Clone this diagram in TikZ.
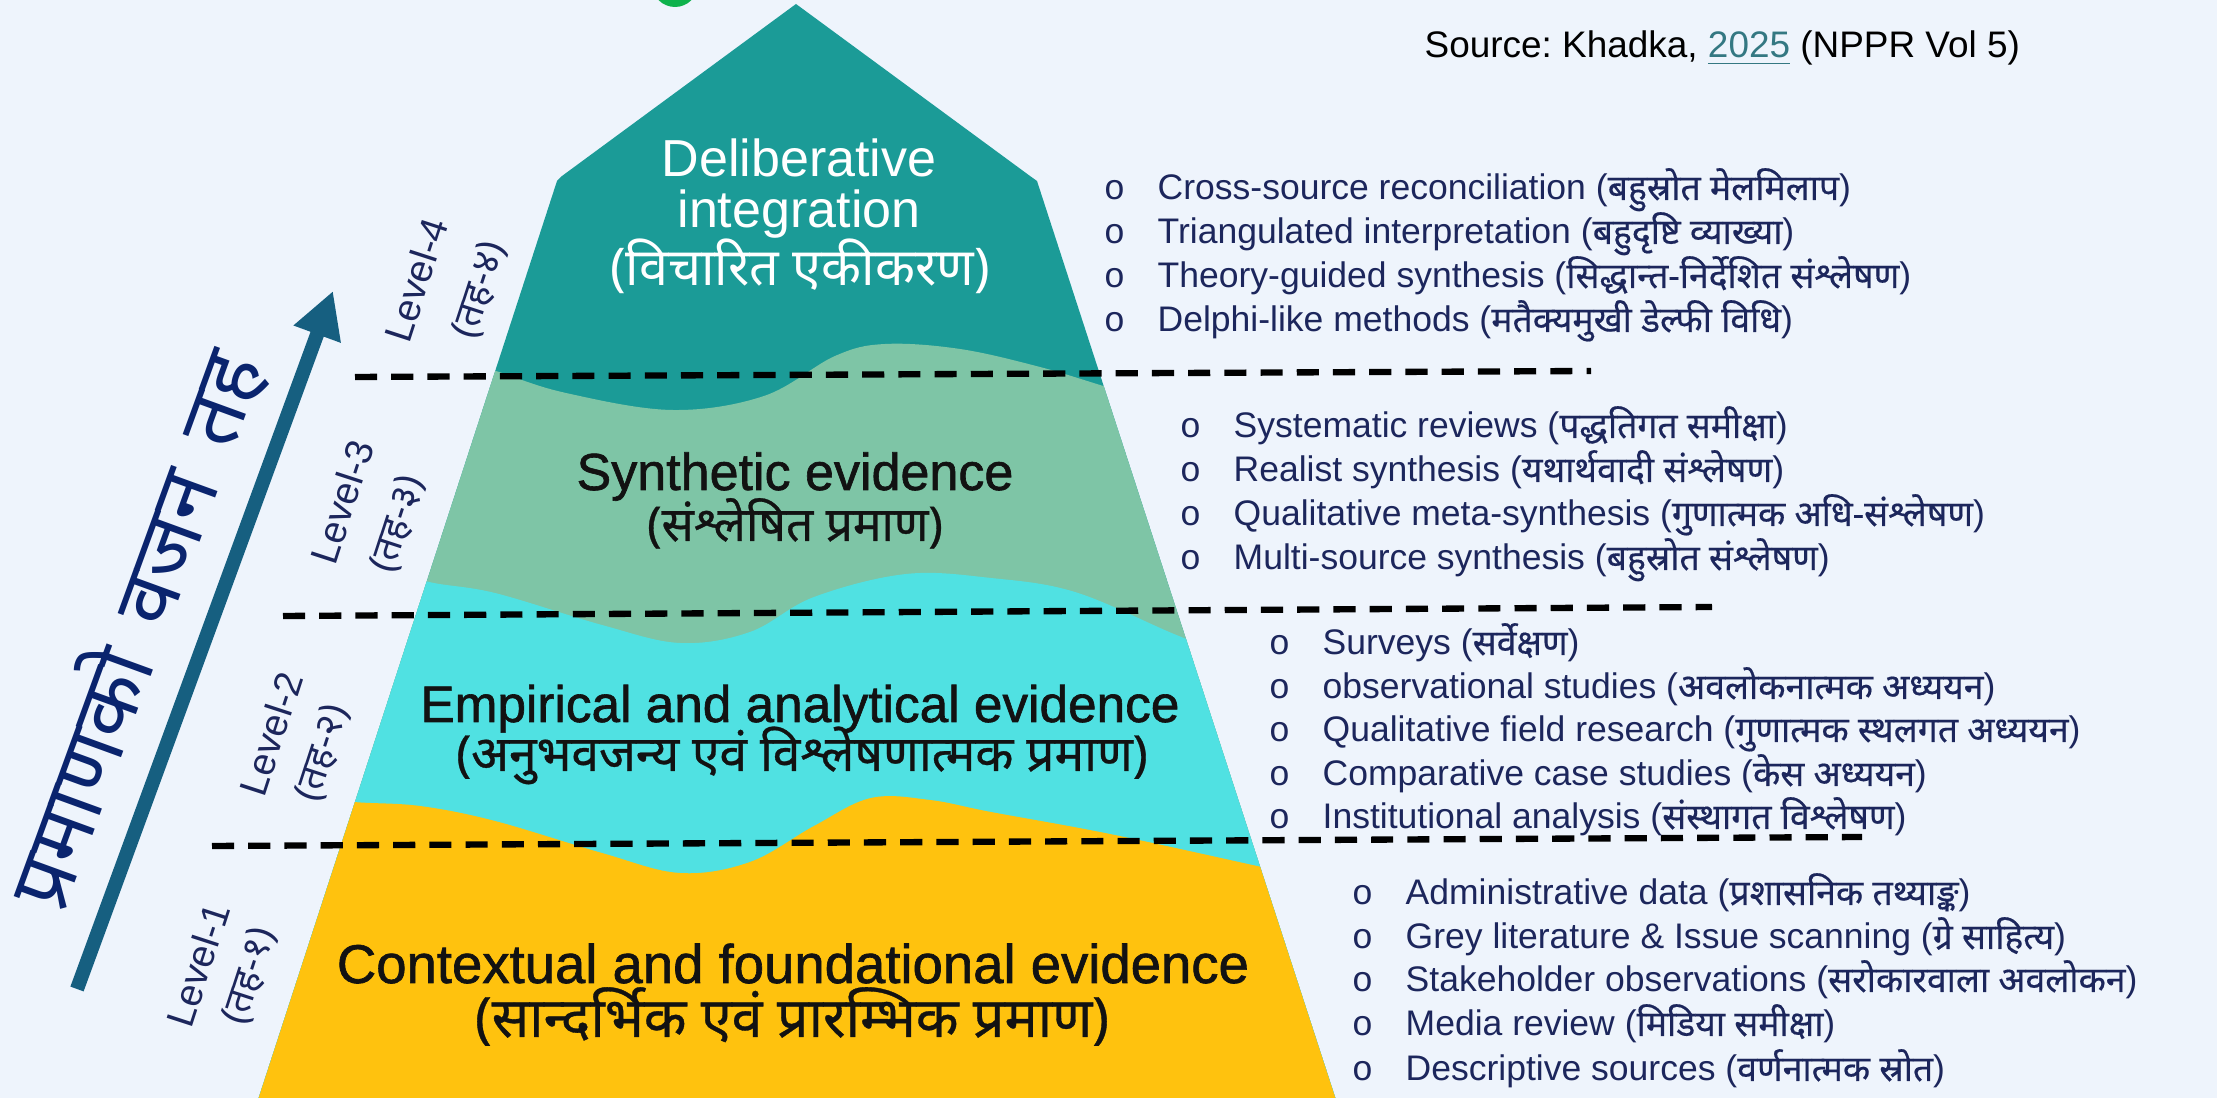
\documentclass[tikz,border=0pt]{standalone}
\usepackage{fontspec}
\setmainfont{Liberation Sans}
\newfontfamily\dev[Script=Devanagari,FakeBold=0.4]{Noto Sans}
\newfontfamily\labfont[FakeBold=1.2]{Liberation Sans}
\newfontfamily\labdev[Script=Devanagari,FakeBold=0.6]{Noto Sans}
\newfontfamily\lvldev[Script=Devanagari]{Noto Sans}
\newfontfamily\titledev[Script=Devanagari]{Noto Sans}
\newfontfamily\mono{Liberation Mono}
\usetikzlibrary{arrows.meta}
\definecolor{bgc}{RGB}{238,244,252}
\definecolor{teal4}{RGB}{27,155,151}
\definecolor{green3}{RGB}{126,197,166}
\definecolor{cyan2}{RGB}{80,225,226}
\definecolor{amber1}{RGB}{255,194,14}
\definecolor{navy}{RGB}{28,38,92}
\definecolor{darknavy}{RGB}{10,36,110}
\definecolor{arrowc}{RGB}{22,95,128}
\definecolor{linkc}{RGB}{52,120,130}
\definecolor{dotgreen}{RGB}{14,178,76}
\definecolor{labink}{RGB}{18,18,18}
\newcommand{\dv}[1]{{\dev #1}}
\newcommand{\blt}{\llap{{\mono o}\hspace{9.25pt}}}
\frenchspacing
\tikzset{
  item/.style={anchor=base west, inner sep=0pt, text=navy, font=\fontsize{10.1}{12}\selectfont},
  plab/.style={anchor=base, inner sep=0pt, font=\fontsize{14.8}{17}\selectfont},
  plabk/.style={anchor=base, inner sep=0pt, text=labink, font=\labfont\fontsize{14.8}{17}\selectfont},
  plabd/.style={anchor=base, inner sep=0pt, font=\lvldev\fontsize{14.8}{17}\selectfont},
  plabdk/.style={anchor=base, inner sep=0pt, text=labink},
  lvl/.style={rotate=72, inner sep=0pt, text=navy, font=\fontsize{11}{13}\selectfont},
  lvld/.style={rotate=72, inner sep=0pt, text=navy, font=\lvldev\fontsize{11}{13}\selectfont},
  dashln/.style={line width=1.8pt, dash pattern=on 6.3pt off 4pt, black},
}
\begin{document}
\begin{tikzpicture}[x=0.01cm,y=-0.01cm]
\path[use as bounding box, fill=bgc] (0,0) rectangle (2217,1098);
\clip (0,0) rectangle (2217,1098);
% green dot at top (cut off)
\fill[dotgreen] (675,-16) circle (23);
% pyramid
\begin{scope}
\clip (796,4) -- (1030,176) -- (1037,181) -- (1336,1100) -- (258,1100) -- (557,181) -- (562,176) -- cycle;
\fill[teal4] (0,0) rectangle (2217,1100);
\fill[green3] plot[smooth, tension=0.6] coordinates {(440,352) (499,372) (566,393) (672,410) (764,396) (835,356) (885,344) (960,349) (1040,367) (1110,388) (1170,405)} -- (1400,1100) -- (200,1100) -- cycle;
\fill[cyan2] plot[smooth, tension=0.6] coordinates {(370,560) (425,581) (495,593) (602,625) (680,643) (750,632) (814,597) (906,574) (991,578) (1075,592) (1174,634) (1240,660)} -- (1400,1100) -- (200,1100) -- cycle;
\fill[amber1] plot[smooth, tension=0.6] coordinates {(300,795) (354,802) (420,806) (495,821) (602,853) (680,873) (750,862) (814,826) (871,798) (930,800) (991,812) (1110,834) (1257,866) (1320,880)} -- (1400,1100) -- (200,1100) -- cycle;
\end{scope}
% dashed level separators
\draw[dashln] (355,377) -- (1591,371);
\draw[dashln] (283,616) -- (1712,607);
\draw[dashln] (212,846) -- (1862,837);
% pyramid labels
\node[plab, text=white] (d1) at (799,177) {Deliberative};
\node[plab, text=white] (d2) at (799,228) {integration};
\node[plabd, text=white] (d3) at (800,286) {(विचारित एकीकरण)};
\node[plabk] (s1) at (795,490) {Synthetic evidence};
\node[plabdk, font=\labdev\fontsize{13.6}{16}\selectfont] (s2) at (795,541) {(संश्लेषित प्रमाण)};
\node[plabk, font=\labfont\fontsize{14.6}{17}\selectfont] (e1) at (800,722) {Empirical and analytical evidence};
\node[plabdk, font=\labdev\fontsize{14.1}{16}\selectfont] (e2) at (802,771) {(अनुभवजन्य एवं विश्लेषणात्मक प्रमाण)};
\node[plabk, font=\labfont\fontsize{15.5}{17}\selectfont] (c1) at (793,983) {Contextual and foundational evidence};
\node[plabdk, font=\labdev\fontsize{15.8}{18}\selectfont] (c2) at (792,1037) {(सान्दर्भिक एवं प्रारम्भिक प्रमाण)};
% left axis
\coordinate (atail) at (77,989);
\coordinate (ahead) at (333,291);
\draw[arrowc, line width=4pt, -{Triangle[length=0.46cm,width=0.47cm]}] (atail) -- (ahead);
\node[rotate=70, inner sep=0pt, text=darknavy, font=\titledev\fontsize{24}{28}\selectfont] (ytitle) at (134,629) {प्रमाणको\hspace{0.4em}वजन\hspace{0.4em}तह};
\node[lvl] (l4a) at (416,280) {Level-4};
\node[lvld] (l4b) at (480,290) {(तह-४)};
\node[lvl] (l3a) at (342,502) {Level-3};
\node[lvld] (l3b) at (398,524) {(तह-३)};
\node[lvl] (l2a) at (271,734) {Level-2};
\node[lvld] (l2b) at (323,753) {(तह-२)};
\node[lvl] (l1a) at (198,965) {Level-1};
\node[lvld] (l1b) at (250,976) {(तह-१)};
% source
\node[anchor=base west, inner sep=0pt, font=\fontsize{10.5}{12}\selectfont] (src) at (1424,58) {Source: Khadka, \textcolor{linkc}{\underline{2025}} (NPPR Vol 5)};
% level 4 items
\node[item] (i41) at (1157,200) {\blt Cross-source reconciliation (\dv{बहुस्रोत मेलमिलाप})};
\node[item] (i42) at (1157,244) {\blt Triangulated interpretation (\dv{बहुदृष्टि व्याख्या})};
\node[item] (i43) at (1157,288) {\blt Theory-guided synthesis (\dv{सिद्धान्त-निर्देशित संश्लेषण})};
\node[item] (i44) at (1157,332) {\blt Delphi-like methods (\dv{मतैक्यमुखी डेल्फी विधि})};
% level 3 items
\node[item] (i31) at (1233,438) {\blt Systematic reviews (\dv{पद्धतिगत समीक्षा})};
\node[item] (i32) at (1233,482) {\blt Realist synthesis (\dv{यथार्थवादी संश्लेषण})};
\node[item] (i33) at (1233,526) {\blt Qualitative meta-synthesis (\dv{गुणात्मक अधि-संश्लेषण})};
\node[item] (i34) at (1233,570) {\blt Multi-source synthesis (\dv{बहुस्रोत संश्लेषण})};
% level 2 items
\node[item] (i21) at (1322,655) {\blt Surveys (\dv{सर्वेक्षण})};
\node[item] (i22) at (1322,699) {\blt observational studies (\dv{अवलोकनात्मक अध्ययन})};
\node[item] (i23) at (1322,742) {\blt Qualitative field research (\dv{गुणात्मक स्थलगत अध्ययन})};
\node[item] (i24) at (1322,786) {\blt Comparative case studies (\dv{केस अध्ययन})};
\node[item] (i25) at (1322,829) {\blt Institutional analysis (\dv{संस्थागत विश्लेषण})};
% level 1 items
\node[item] (i11) at (1405,905) {\blt Administrative data (\dv{प्रशासनिक तथ्याङ्क})};
\node[item] (i12) at (1405,949) {\blt Grey literature \& Issue scanning (\dv{ग्रे साहित्य})};
\node[item] (i13) at (1405,992) {\blt Stakeholder observations (\dv{सरोकारवाला अवलोकन})};
\node[item] (i14) at (1405,1036) {\blt Media review (\dv{मिडिया समीक्षा})};
\node[item] (i15) at (1405,1081) {\blt Descriptive sources (\dv{वर्णनात्मक स्रोत})};
\end{tikzpicture}
\end{document}
